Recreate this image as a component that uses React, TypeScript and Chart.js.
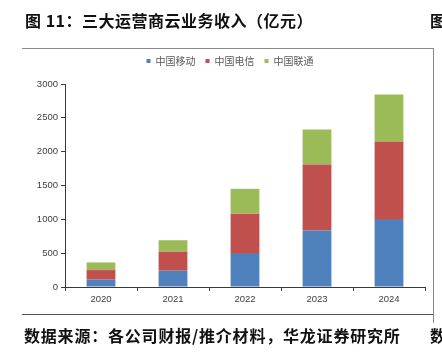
import React, { useEffect, useRef } from "react";
import { Chart, registerables } from "chart.js";

Chart.register(...registerables);

const categories = ["2020", "2021", "2022", "2023", "2024"];
const mobile = [113, 241, 504, 836, 1004];
const telecom = [137, 278, 580, 973, 1147];
const unicom = [113, 172, 367, 519, 692];
const yTicks = [0, 500, 1000, 1500, 2000, 2500, 3000];
const seriesNames = ["中国移动", "中国电信", "中国联通"];

const titleText = "图 11：三大运营商云业务收入（亿元）";
const sourceText = "数据来源：各公司财报/推介材料，华龙证券研究所";

const legendGapPlugin = {
  id: "legendGap",
  beforeLayout(chart: any) {
    const lg = chart.legend;
    if (lg && !lg.__patched) {
      const orig = lg.fit.bind(lg);
      lg.fit = function () {
        orig();
        this.height += 8;
      };
      lg.__patched = true;
    }
  },
};

export default function App() {
  const ref = useRef<HTMLCanvasElement | null>(null);

  useEffect(() => {
    if (!ref.current) return;
    const axisColor = "#3a3a3a";
    const tickFont = { family: "'Liberation Sans', Arial, sans-serif", size: 9.5 };
    const chart = new Chart(ref.current, {
      type: "bar",
      data: {
        labels: categories,
        datasets: [
          { label: seriesNames[0], data: mobile, backgroundColor: "#4F81BD" },
          { label: seriesNames[1], data: telecom, backgroundColor: "#C0504D" },
          { label: seriesNames[2], data: unicom, backgroundColor: "#9BBB59" },
        ].map((d) => ({ ...d, borderWidth: 0, barPercentage: 0.4, categoryPercentage: 1.0 })),
      },
      plugins: [legendGapPlugin],
      options: {
        animation: false,
        responsive: false,
        maintainAspectRatio: false,
        layout: { padding: { left: 35, right: 17, top: 46, bottom: 44 } },
        plugins: {
          legend: {
            position: "top",
            labels: {
              boxWidth: 4,
              boxHeight: 4,
              padding: 10,
              color: "#595959",
              font: { family: "'Noto Sans CJK SC', sans-serif", size: 10 },
            },
          },
          tooltip: { enabled: false },
        },
        scales: {
          x: {
            stacked: true,
            offset: true,
            grid: { display: true, drawOnChartArea: false, tickLength: 4, color: axisColor, offset: true },
            border: { display: true, color: axisColor, width: 1 },
            ticks: { color: "#404040", font: tickFont, padding: 3, maxRotation: 0 },
            afterFit: (s: any) => { s.height = 22; },
          },
          y: {
            stacked: true,
            min: 0,
            max: 3000,
            afterBuildTicks: (s: any) => { s.ticks = yTicks.map((v) => ({ value: v })); },
            grid: { display: true, drawOnChartArea: false, tickLength: 4, color: axisColor },
            border: { display: true, color: axisColor, width: 1 },
            ticks: { color: "#404040", font: tickFont, padding: 3, callback: (v: any) => String(v) },
            afterFit: (s: any) => { s.width = 30; },
          },
        },
      },
    });
    return () => chart.destroy();
  }, []);

  const textFont = "'Noto Sans CJK SC', sans-serif";
  return (
    <div style={{ position: "fixed", left: 0, top: 0, width: 442, height: 353, background: "#fff", overflow: "hidden" }}>
      <canvas ref={ref} width={442} height={353} style={{ position: "absolute", left: 0, top: 0, width: 442, height: 353 }} />
      <div style={{ position: "absolute", left: 25, top: 9, fontFamily: textFont, fontWeight: 700, fontSize: 16, lineHeight: "22px", letterSpacing: 0.5, color: "#111", whiteSpace: "nowrap" }}>{titleText}</div>
      <div style={{ position: "absolute", left: 430, top: 9, fontFamily: textFont, fontWeight: 700, fontSize: 16, lineHeight: "22px", color: "#111", whiteSpace: "nowrap" }}>图</div>
      <div style={{ position: "absolute", left: 22, top: 48, width: 411, height: 1, background: "#8a8a8a" }} />
      <div style={{ position: "absolute", left: 433, top: 48, width: 1, height: 275, background: "#8a8a8a" }} />
      <div style={{ position: "absolute", left: 22, top: 314, width: 411, height: 1, background: "#555" }} />
      <div style={{ position: "absolute", left: 24, top: 324, fontFamily: textFont, fontWeight: 700, fontSize: 16, lineHeight: "22px", letterSpacing: 0.8, color: "#111", whiteSpace: "nowrap" }}>{sourceText}</div>
      <div style={{ position: "absolute", left: 430, top: 324, fontFamily: textFont, fontWeight: 700, fontSize: 16, lineHeight: "22px", color: "#111", whiteSpace: "nowrap" }}>数</div>
    </div>
  );
}
